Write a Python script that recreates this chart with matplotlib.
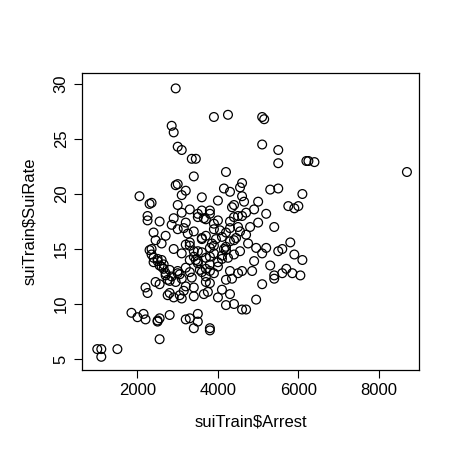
import matplotlib
matplotlib.use("Agg")
import matplotlib.pyplot as plt

plt.rcParams["font.family"] = ["Liberation Sans", "DejaVu Sans"]

# suiTrain$Arrest, suiTrain$SuiRate
arrest = [
    1000, 1100, 1100, 1500,
    2950, 2850, 2900, 3000, 3100, 3900, 4250, 5100, 5150,
    3350, 3450, 4200, 5100, 5500, 5500, 6200, 6250, 6400, 8700,
    5300, 5500, 6100, 5750, 5900, 6000,
    2050, 2300, 2350, 2250, 2250, 2550, 2400,
    2000, 1850, 2150, 2200, 2500, 2500, 2550, 2550, 2800,
    3100, 3400, 3500, 3300, 3500, 3800, 3800, 3400, 3200,
    4200, 4300, 4400, 4600, 4700, 4950, 5100,
    5400, 5400, 5600, 5850, 6050, 5700, 5300, 5600, 5800, 5900, 6100, 5500,
    5100, 4950, 5200, 5400, 5000, 5200, 4800, 4900, 5000, 4650, 4700, 4600,
    4550, 4600, 4300, 4400, 4700, 4750, 4850, 4900, 4500, 4600, 4300,
    2200, 2300, 2350, 2400, 2450, 2500, 2550, 2600, 2650, 2700,
    2250, 2350, 2450, 2550, 2650, 2750, 2850, 2950, 3050, 3150,
    2400, 2500, 2600, 2700, 2800, 2900, 3000, 3100, 3200, 3300,
    2600, 2700, 2800, 2900, 3000, 3100, 3200, 3300, 3400, 3500,
    2900, 3000, 3100, 3200, 3300, 3400, 3500, 3600, 3700, 3800,
    3000, 3100, 3200, 3300, 3400, 3500, 3600, 3700, 3800, 3900,
    3300, 3400, 3500, 3600, 3700, 3800, 3900, 4000, 4100, 4200,
    3500, 3600, 3700, 3800, 3900, 4000, 4100, 4200, 4300, 4400,
    3700, 3800, 3900, 4000, 4100, 4200, 4300, 4400, 4500, 4600,
    3900, 4000, 4100, 4200, 4300, 4400, 4500, 3600, 3700, 3800,
    2750, 2850, 3050, 3250, 3450, 3650, 3850, 4050, 4250, 4450,
    2800, 3000, 3200, 3400, 3600, 3800, 4000, 4150, 4350, 4550,
    3350, 3550, 3750, 3950, 4150, 4350, 4550, 3150, 2950, 3650,
]
sui_rate = [
    5.9, 5.2, 5.9, 5.9,
    29.6, 26.2, 25.6, 24.3, 24.0, 27.0, 27.2, 27.0, 26.8,
    23.2, 23.2, 22.0, 24.5, 24.0, 22.8, 23.0, 23.0, 22.9, 22.0,
    20.4, 20.5, 20.0, 18.9, 18.7, 18.9,
    19.8, 19.1, 19.2, 18.0, 17.6, 17.5, 16.5,
    8.8, 9.2, 9.1, 8.6, 8.5, 8.4, 8.7, 6.8, 9.0,
    10.5, 10.7, 9.1, 8.7, 8.4, 7.8, 7.6, 7.8, 8.6,
    9.9, 10.9, 10.0, 9.5, 9.5, 10.4, 11.8,
    12.6, 12.3, 12.8, 12.8, 12.6, 13.2, 13.5, 15.0, 15.6, 14.5, 14.0, 14.8,
    14.6, 15.1, 15.1, 17.0, 17.4, 18.2, 17.0, 18.6, 19.3, 19.3, 18.3, 18.0,
    20.6, 21.0, 20.2, 19.0, 16.3, 15.5, 13.0, 13.9, 12.8, 13.0, 13.0,
    11.5, 14.9, 15.0, 14.2, 15.8, 13.9, 13.5, 14.0, 13.2, 12.8,
    11.0, 14.5, 12.0, 11.8, 13.6, 12.2, 12.5, 12.0, 10.8, 11.2,
    13.8, 14.1, 13.4, 12.6, 11.0, 10.6, 12.8, 12.3, 11.6, 12.9,
    15.5, 16.2, 13.1, 15.0, 13.0, 14.6, 13.3, 14.0, 14.3, 13.7,
    17.8, 16.8, 18.3, 17.4, 15.3, 16.6, 14.8, 15.9, 14.2, 13.6,
    20.9, 19.9, 20.3, 18.6, 21.6, 18.2, 16.0, 17.7, 18.5, 17.3,
    15.6, 14.8, 17.9, 18.5, 16.2, 15.1, 14.6, 13.4, 14.1, 14.9,
    13.9, 12.9, 12.0, 18.2, 16.8, 17.6, 16.1, 15.2, 17.5, 15.8,
    12.5, 13.0, 15.3, 19.4, 14.4, 16.5, 15.7, 14.5, 17.0, 19.8,
    12.8, 10.6, 11.3, 12.2, 16.9, 17.9, 18.0, 14.7, 13.2, 11.9,
    10.8, 17.2, 12.7, 16.4, 14.0, 17.8, 15.5, 16.7, 14.2, 16.0,
    12.1, 19.0, 15.4, 11.5, 19.7, 14.3, 13.8, 15.0, 18.8, 16.6,
    12.4, 13.1, 11.1, 15.9, 20.5, 12.3, 14.8, 16.9, 20.8, 10.9,
]

fig = plt.figure(figsize=(4.61, 4.66), dpi=100)
ax = fig.add_axes([82 / 461, 1 - 370 / 466, (419 - 82) / 461, (370 - 73) / 466])
ax.scatter(arrest, sui_rate, s=40, facecolors="none", edgecolors="black", linewidths=0.9)

ax.set_xlim(620, 9000)
ax.set_ylim(4.0, 31.0)
ax.set_xticks([2000, 4000, 6000, 8000])
ax.set_yticks([5, 10, 15, 20, 25, 30])
for lab in ax.get_yticklabels():
    lab.set_rotation(90)
    lab.set_va("center")
ax.tick_params(labelsize=12, length=6, direction="out")
ax.set_xlabel("suiTrain$Arrest", fontsize=12, labelpad=12)
ax.set_ylabel("suiTrain$SuiRate", fontsize=12, labelpad=12)
for s in ax.spines.values():
    s.set_linewidth(0.9)

fig.savefig("out.png", dpi=100)
